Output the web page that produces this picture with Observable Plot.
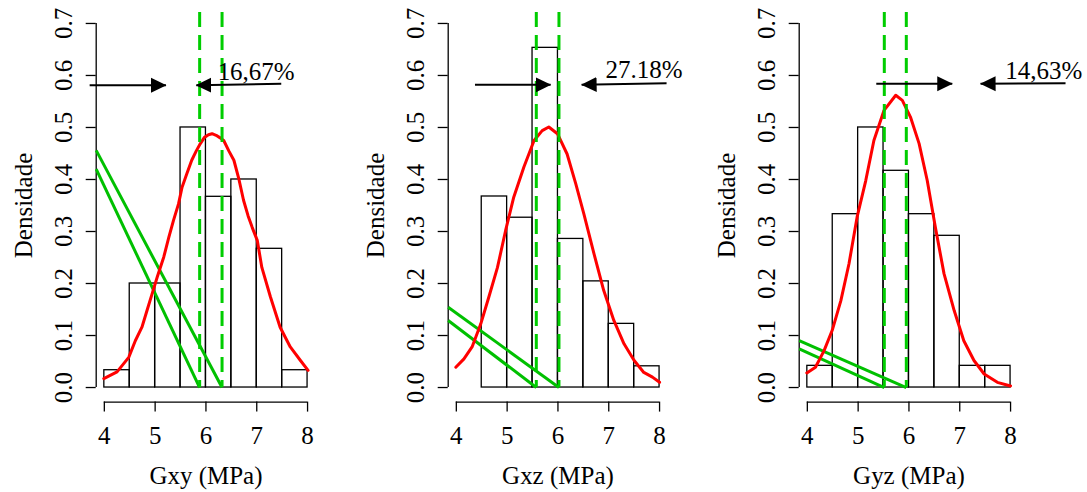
<!DOCTYPE html>
<html>
<head>
<meta charset="utf-8">
<script src="https://cdn.jsdelivr.net/npm/d3@7"></script>
<script src="https://cdn.jsdelivr.net/npm/@observablehq/plot@0.6"></script>
<style>
  html, body { margin: 0; padding: 0; background: #fff; }
  #row { position: relative; width: 1087px; height: 492px; overflow: hidden; }
  .panel { position: absolute; top: 0; }
  .panel svg { overflow: visible; display: block; }
  svg text { font-family: "Liberation Serif", "Times New Roman", Times, serif !important; }
</style>
</head>
<body>
<div id="row"></div>
<script>
// ---------- data ----------
const binEdges = [4, 4.5, 5, 5.5, 6, 6.5, 7, 7.5, 8];
const xTicks = [4, 5, 6, 7, 8];
const yTicks = [0, 0.1, 0.2, 0.3, 0.4, 0.5, 0.6, 0.7];
const yLabel = "Densidade";
const xLabels = ["Gxy (MPa)", "Gxz (MPa)", "Gyz (MPa)"];
const pctLabels = ["16,67%", "27.18%", "14,63%"];

// histogram densities per bin
const gxyDensity = [0.0333, 0.2, 0.2, 0.5, 0.3667, 0.4, 0.2667, 0.0333];
const gxzDensity = [0, 0.3673, 0.3265, 0.6531, 0.2857, 0.2041, 0.1224, 0.0408];
const gyzDensity = [0.0417, 0.3333, 0.5, 0.4167, 0.3333, 0.2917, 0.0417, 0.0417];

// density curves (red)
const gxyCurveX = [3.99,4.25,4.48,4.61,4.74,4.84,4.94,5.04,5.17,5.27,5.36,5.46,5.53,5.62,5.72,5.81,5.89,5.97,6.05,6.12,6.20,6.28,6.35,6.45,6.55,6.65,6.74,6.83,6.91,7.01,7.10,7.27,7.46,7.66,7.86,8.01];
const gxyCurveY = [0.017,0.030,0.058,0.090,0.116,0.148,0.180,0.212,0.251,0.289,0.321,0.353,0.385,0.410,0.437,0.455,0.469,0.481,0.486,0.488,0.485,0.480,0.475,0.455,0.437,0.400,0.360,0.330,0.308,0.283,0.231,0.174,0.116,0.078,0.052,0.033];
const gxzCurveX = [3.99,4.15,4.31,4.48,4.64,4.81,4.97,5.13,5.33,5.53,5.69,5.82,5.99,6.18,6.35,6.51,6.71,6.90,7.10,7.30,7.50,7.69,7.86,8.00];
const gxzCurveY = [0.039,0.055,0.078,0.122,0.174,0.231,0.302,0.366,0.424,0.475,0.494,0.501,0.488,0.449,0.392,0.334,0.257,0.187,0.129,0.084,0.052,0.029,0.020,0.010];
const gyzCurveX = [3.99,4.16,4.33,4.49,4.66,4.82,4.98,5.15,5.31,5.51,5.74,5.87,6.03,6.20,6.36,6.52,6.69,6.89,7.08,7.28,7.48,7.74,8.00];
const gyzCurveY = [0.028,0.039,0.071,0.110,0.167,0.238,0.328,0.398,0.475,0.533,0.562,0.552,0.520,0.469,0.398,0.308,0.219,0.148,0.090,0.052,0.026,0.010,0.003];

// limit values (green dashed) and the green lines falling onto them
const gxyLimits = [5.876, 6.317];
const gxzLimits = [5.574, 6.02];
const gyzLimits = [5.515, 5.948];
const gxyLineStartY = [0.42, 0.456];
const gxzLineStartY = [0.129, 0.1545];
const gyzLineStartY = [0.0744, 0.0904];

// arrows (x1, y1 -> x2, y2)
const gxyArrowX1 = [3.711, 7.482], gxyArrowY1 = [0.581, 0.584], gxyArrowX2 = [5.213, 5.81], gxyArrowY2 = [0.581, 0.581];
const gxzArrowX1 = [4.367, 8.138], gxzArrowY1 = [0.582, 0.585], gxzArrowX2 = [5.856, 6.466], gxzArrowY2 = [0.582, 0.582];
const gyzArrowX1 = [5.357, 9.082], gyzArrowY1 = [0.584, 0.585], gyzArrowX2 = [6.852, 7.41], gyzArrowY2 = [0.584, 0.584];

// percentage label positions
const pctX = [6.988, 7.693, 8.652];
const pctY = [0.606, 0.6096, 0.6077];

// ---------- build ----------
const densities = [gxyDensity, gxzDensity, gyzDensity];
const curvesX = [gxyCurveX, gxzCurveX, gyzCurveX];
const curvesY = [gxyCurveY, gxzCurveY, gyzCurveY];
const limits = [gxyLimits, gxzLimits, gyzLimits];
const lineStarts = [gxyLineStartY, gxzLineStartY, gyzLineStartY];
const arrows = [
  [gxyArrowX1, gxyArrowY1, gxyArrowX2, gxyArrowY2],
  [gxzArrowX1, gxzArrowY1, gxzArrowX2, gxzArrowY2],
  [gyzArrowX1, gyzArrowY1, gyzArrowX2, gyzArrowY2]
];

// R-style 4% axis expansion
const xPad = 0.04 * (d3.max(xTicks) - d3.min(xTicks));
const yPad = 0.04 * (d3.max(yTicks) - d3.min(yTicks));
const xLo = d3.min(xTicks) - xPad, xHi = d3.max(xTicks) + xPad;
const yLo = d3.min(yTicks) - yPad, yHi = d3.max(yTicks) + yPad;

const FONT = "Liberation Serif, Times New Roman, Times, serif";
const FS = 25;
const panelStep = 351.6;
const mLeft = 95.7;
const plotW = 219.5;
const widths = [351.6, 351.6, 383.8];

const row = document.getElementById("row");
const ns = "http://www.w3.org/2000/svg";

for (let p = 0; p < 3; p++) {
  const bins = densities[p].map((d, i) => ({x1: binEdges[i], x2: binEdges[i + 1], v: d})).filter(b => b.v > 0);
  const curve = curvesX[p].map((x, i) => ({cx: x, cy: curvesY[p][i]}));
  const greens = limits[p].map((lx, i) => ({x1: xLo, y1: lineStarts[p][i], x2: lx, y2: 0}));
  const [ax1, ay1, ax2, ay2] = arrows[p];
  const arr = ax1.map((_, i) => ({x1: ax1[i], y1: ay1[i], x2: ax2[i], y2: ay2[i]}));
  const txt = {fontSize: FS, fontFamily: FONT, fill: "black"};

  const chart = Plot.plot({
    width: widths[p],
    height: 492,
    marginLeft: mLeft,
    marginRight: widths[p] - mLeft - plotW,
    marginTop: 8.4,
    marginBottom: 90.4,
    style: {fontFamily: FONT, fontSize: FS + "px", background: "transparent", overflow: "visible", color: "black"},
    x: {domain: [xLo, xHi], axis: null, label: null},
    y: {domain: [yLo, yHi], axis: null, label: null},
    marks: [
      // histogram
      Plot.rect(bins, {x1: "x1", x2: "x2", y1: 0, y2: "v", fill: "none", stroke: "black", strokeWidth: 1.3}),
      // y axis
      Plot.ruleX([xLo], {y1: d3.min(yTicks), y2: d3.max(yTicks), stroke: "black", strokeWidth: 1.3}),
      Plot.axisY({ticks: yTicks, tickSize: 10, tickFormat: () => "", label: null, stroke: "black", strokeWidth: 1.3}),
      Plot.text(yTicks, {x: xLo, y: d => d, text: d => d.toFixed(1), rotate: -90, dx: -32, ...txt}),
      Plot.text([yLabel], {x: xLo, y: (yLo + yHi) / 2, text: d => d, rotate: -90, dx: -72, ...txt}),
      // x axis
      Plot.ruleY([yLo], {x1: d3.min(xTicks), x2: d3.max(xTicks), stroke: "black", strokeWidth: 1.3}),
      Plot.axisX({ticks: xTicks, tickSize: 10, tickFormat: () => "", label: null, stroke: "black", strokeWidth: 1.3}),
      Plot.text(xTicks, {x: d => d, y: yLo, text: d => String(d), dy: 33.7, ...txt}),
      Plot.text([xLabels[p]], {x: (d3.min(xTicks) + d3.max(xTicks)) / 2, y: yLo, text: d => d, dy: 74.4, ...txt}),
      // green lines
      Plot.link(greens, {x1: "x1", y1: "y1", x2: "x2", y2: "y2", stroke: "#00c000", strokeWidth: 3}),
      // density
      Plot.line(curve, {x: "cx", y: "cy", stroke: "#ff0000", strokeWidth: 3}),
      // dashed limits
      Plot.ruleX(limits[p], {y1: 0.721, y2: 0, stroke: "#00cd00", strokeWidth: 3, strokeDasharray: "15,8"}),
      // arrows
      Plot.link(arr, {x1: "x1", y1: "y1", x2: "x2", y2: "y2", stroke: "black", strokeWidth: 2, markerEnd: "arrow"}),
      // percentage
      Plot.text([pctLabels[p]], {x: pctX[p], y: pctY[p], text: d => d, ...txt})
    ]
  });

  // make the serif font explicit on every text node
  chart.setAttribute("font-family", FONT);
  chart.querySelectorAll("text").forEach(t => {
    t.setAttribute("font-family", FONT);
    t.style.setProperty("font-family", "'Liberation Serif', 'Times New Roman', Times, serif", "important");
  });

  // turn Plot's open arrow markers into filled triangles
  chart.querySelectorAll("marker").forEach(m => {
    m.setAttribute("markerUnits", "userSpaceOnUse");
    m.setAttribute("viewBox", "0 -8 16 16");
    m.setAttribute("markerWidth", "16");
    m.setAttribute("markerHeight", "16");
    m.setAttribute("refX", "15");
    m.setAttribute("refY", "0");
    m.setAttribute("orient", "auto");
    m.setAttribute("fill", "black");
    m.setAttribute("stroke", "none");
    while (m.firstChild) m.removeChild(m.firstChild);
    const mp = document.createElementNS(ns, "path");
    mp.setAttribute("d", "M0,-7.5L15.5,0L0,7.5Z");
    mp.setAttribute("fill", "black");
    mp.setAttribute("stroke", "none");
    m.appendChild(mp);
  });

  const div = document.createElement("div");
  div.className = "panel";
  div.style.left = (p * panelStep) + "px";
  div.appendChild(chart);
  row.appendChild(div);
}
</script>
</body>
</html>
